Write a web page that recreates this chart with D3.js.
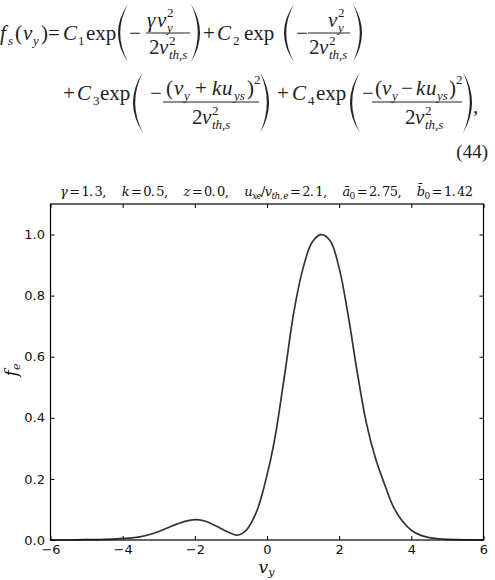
<!DOCTYPE html>
<html><head><meta charset="utf-8">
<script src="https://cdn.jsdelivr.net/npm/d3@7"></script>
<style>body{margin:0;background:#fff} svg{display:block}</style>
</head><body><svg id="c" width="495" height="580"></svg>
<script>
// ---- data ----
const vy = [-6,-5.5,-5,-4.75,-4.5,-4.25,-4,-3.75,-3.5,-3.25,-3,-2.75,-2.5,-2.25,-2,-1.75,-1.5,-1.25,-1,-0.85,-0.75,-0.6,-0.5,-0.4,-0.25,-0.1,0,0.1,0.25,0.5,0.75,1,1.25,1.5,1.75,2,2.25,2.5,2.75,3,3.25,3.5,3.75,4,4.25,4.5,4.75,5,5.5,6];
const fe = [0,0,0.001,0.001,0.002,0.003,0.005,0.007,0.011,0.018,0.028,0.040,0.052,0.062,0.067,0.063,0.051,0.036,0.022,0.016,0.018,0.029,0.044,0.064,0.105,0.165,0.213,0.263,0.355,0.55,0.75,0.89,0.975,1.0,0.98,0.89,0.735,0.55,0.385,0.27,0.185,0.109,0.062,0.032,0.016,0.008,0.004,0.002,0.0005,0];
const xTicks = [-6,-4,-2,0,2,4,6];
const yTicks = [0,0.2,0.4,0.6,0.8,1.0];
const xDomain = [-6,6];
const yDomain = [0,1.1];

const svg = d3.select('#c');
const ink = '#222';
const SERIF = 'Liberation Serif, Times New Roman, serif';

// ---- equation ----
function tok(x,y,s,size=21,italic=false,anchor='start'){
  svg.append('text').attr('x',x).attr('y',y).attr('font-size',size)
    .attr('font-family',SERIF).attr('font-style',italic?'italic':'normal')
    .attr('text-anchor',anchor).attr('fill',ink).text(s);
}
function paren(xl,xr,top,bot,left){
  const mid=(top+bot)/2, w=2.2;
  let p;
  if(left){
    p=`M${xr},${top} Q${2*xl-xr},${mid} ${xr},${bot} Q${2*(xl+w)-xr},${mid} ${xr},${top}Z`;
  } else {
    p=`M${xl},${top} Q${2*xr-xl},${mid} ${xl},${bot} Q${2*(xr-w)-xl},${mid} ${xl},${top}Z`;
  }
  svg.append('path').attr('d',p).attr('fill',ink);
}
function bar(x1,x2,y){
  svg.append('line').attr('x1',x1).attr('x2',x2).attr('y1',y).attr('y2',y).attr('stroke',ink).attr('stroke-width',1);
}
// line 1
tok(0,40,'f',21,true); tok(8,45,'s',13,true); tok(15,40,'('); tok(23,40,'v',21,true); tok(33,45,'y',13,true); tok(41,40,')');
tok(48,40,'='); tok(63,40,'C',21,true); tok(78,45,'1',13); tok(86,40,'exp');
paren(118,128,4,62,true); tok(129,40,'\u2212');
tok(147,27,'\u03b3',21,true); tok(157,27,'v',21,true); tok(167,17,'2',13); tok(167,32,'y',13,true);
bar(146,190,33);
tok(149,54,'2'); tok(159,54,'v',21,true); tok(169,45,'2',13); tok(169,59,'th,s',13,true);
paren(191,200,4,62,false);
tok(203,40,'+'); tok(217,40,'C',21,true); tok(233,45,'2',13); tok(244,40,'exp');
paren(284,294,4,62,true); tok(296,40,'\u2212');
tok(328,27,'v',21,true); tok(338,17,'2',13); tok(338,32,'y',13,true);
bar(308,350,33);
tok(309,54,'2'); tok(319,54,'v',21,true); tok(329,45,'2',13); tok(329,59,'th,s',13,true);
paren(353,362,4,62,false);
// line 2
tok(63,100,'+'); tok(77,100,'C',21,true); tok(93,105,'3',13); tok(100,100,'exp');
paren(133,143,72,133,true); tok(150,100,'\u2212');
tok(166,95,'('); tok(174,95,'v',21,true); tok(184,100,'y',13,true); tok(195,95,'+'); tok(212,95,'k',21,true); tok(222,95,'u',21,true); tok(234,100,'ys',13,true); tok(247,95,')'); tok(254,84,'2',13);
bar(163,259,102);
tok(192,124,'2'); tok(202,124,'v',21,true); tok(212,115,'2',13); tok(212,129,'th,s',13,true);
paren(260,269,72,133,false);
tok(277,100,'+'); tok(292,100,'C',21,true); tok(308,105,'4',13); tok(316,100,'exp');
paren(350,360,72,133,true); tok(362,100,'\u2212');
tok(375,95,'('); tok(382,95,'v',21,true); tok(392,100,'y',13,true); tok(401,95,'\u2212'); tok(416,95,'k',21,true); tok(426,95,'u',21,true); tok(437,100,'ys',13,true); tok(449,95,')'); tok(456,84,'2',13);
bar(372,462,102);
tok(405,124,'2'); tok(415,124,'v',21,true); tok(425,115,'2',13); tok(425,129,'th,s',13,true);
paren(463,472,72,133,false);
tok(473,113,',');
tok(488,158,'(44)',19,false,'end');

// ---- chart ----
const m = {l:50.5, r:483.5, t:204, b:540};
const x = d3.scaleLinear().domain(xDomain).range([m.l,m.r]);
const y = d3.scaleLinear().domain(yDomain).range([m.b,m.t]);
const TF = 'DejaVu Sans, sans-serif';

const gx = svg.append('g').attr('transform',`translate(0,${m.b})`)
  .call(d3.axisBottom(x).tickValues(xTicks).tickSizeInner(-4).tickSizeOuter(0).tickPadding(5).tickFormat(d3.format('d')));
const gy = svg.append('g').attr('transform',`translate(${m.l},0)`)
  .call(d3.axisLeft(y).tickValues(yTicks).tickSizeInner(-4).tickSizeOuter(0).tickPadding(5.5).tickFormat(d3.format('.1f')));
const gt = svg.append('g').attr('transform',`translate(0,${m.t})`)
  .call(d3.axisTop(x).tickValues(xTicks).tickSizeInner(-4).tickSizeOuter(0).tickFormat(''));
const gr = svg.append('g').attr('transform',`translate(${m.r},0)`)
  .call(d3.axisRight(y).tickValues(yTicks).tickSizeInner(-4).tickSizeOuter(0).tickFormat(''));
[gx,gy,gt,gr].forEach(g=>{
  g.select('.domain').remove();
  g.selectAll('.tick line').attr('stroke','#000').attr('stroke-width',1);
  g.selectAll('.tick text').attr('font-family',TF).attr('font-size',13).attr('fill','#111');
});

const line = d3.line().x((d,i)=>x(vy[i])).y(d=>y(d)).curve(d3.curveCatmullRom.alpha(0.5));
svg.append('path').datum(fe).attr('d',line).attr('fill','none').attr('stroke','#333').attr('stroke-width',1.7);

svg.append('rect').attr('x',m.l).attr('y',m.t).attr('width',m.r-m.l).attr('height',m.b-m.t)
  .attr('fill','none').attr('stroke','#000').attr('stroke-width',1.2);

// title
const TS = 'DejaVu Serif, serif';
const title = svg.append('text').attr('x',60).attr('y',196).attr('text-anchor','start')
  .attr('textLength',413).attr('lengthAdjust','spacing')
  .attr('font-family',TS).attr('font-size',13).attr('fill','#111').style('white-space','pre');
const parts = [
  ['\u03b3',1,0],['\u2009=\u20091.\u20093,\u2003 ',0,0],
  ['k',1,0],['\u2009=\u20090.\u20095,\u2003 ',0,0],
  ['z',1,0],['\u2009=\u20090.\u20090,\u2003 ',0,0],
  ['u',1,0],['xe',1,1],['/',0,0],['v',1,0],['th,\u2009e',1,1],['\u2009=\u20092.\u20091,\u2003 ',0,0],
  ['\u0101',1,0],['0',0,1],['\u2009=\u20092.\u200975,\u2003 ',0,0],
  ['b\u0304',1,0],['0',0,1],['\u2009=\u20091.\u200942',0,0]
];
let shifted=false;
parts.forEach(([t,it,sub])=>{
  const ts = title.append('tspan').text(t).attr('font-style',it?'italic':'normal');
  if(sub){ ts.attr('font-size',9); if(!shifted){ts.attr('dy',3); shifted=true;} }
  else if(shifted){ ts.attr('dy',-3); shifted=false; }
});

// axis labels
const yl = svg.append('text').attr('transform','translate(17,370) rotate(-90)').attr('text-anchor','middle')
  .attr('font-family',TS).attr('font-size',17).attr('fill','#111');
yl.append('tspan').attr('font-style','italic').text('f');
yl.append('tspan').attr('font-style','italic').attr('font-size',11).attr('dy',3).text('e');

const xl = svg.append('text').attr('x',266.5).attr('y',573).attr('text-anchor','middle')
  .attr('font-family',TS).attr('font-size',17).attr('fill','#111');
xl.append('tspan').attr('font-style','italic').text('v');
xl.append('tspan').attr('font-style','italic').attr('font-size',11).attr('dy',3).text('y');
</script></body></html>
